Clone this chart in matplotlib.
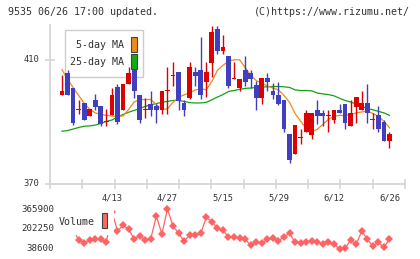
import matplotlib
matplotlib.use('Agg')
import matplotlib.pyplot as plt
from matplotlib.patches import Rectangle
from matplotlib.transforms import blended_transform_factory
import numpy as np

# ---------------- data ----------------
opens = [398.8, 405.8, 400.8, 393.9, 396.0, 391.9, 396.9, 395.0, 389.9, 392.1,
         401.1, 393.7, 402.1, 406.8, 398.8, 393.9, 395.9, 395.0, 393.7, 400.0,
         404.9, 406.0, 396.0, 397.7, 406.0, 406.8, 402.7, 408.9, 420.0, 412.8,
         411.1, 403.9, 400.9, 406.8, 405.9, 402.0, 397.7, 404.0, 400.1, 398.8,
         396.9, 386.0, 379.5, 384.9, 386.7, 385.7, 393.9, 393.0, 391.8, 390.5,
         393.9, 395.9, 388.6, 394.8, 393.9, 396.0, 390.6, 392.1, 389.9, 383.8]
highs = [405.0, 406.8, 400.8, 396.9, 396.0, 394.2, 399.0, 395.0, 394.0, 401.0,
         402.1, 402.1, 407.7, 406.8, 398.8, 397.6, 400.1, 395.9, 400.1, 407.8,
         409.2, 406.0, 396.9, 409.2, 407.6, 417.3, 409.2, 421.0, 421.0, 418.1,
         411.1, 409.2, 403.9, 411.1, 406.8, 403.1, 404.0, 405.9, 402.4, 402.7,
         396.9, 386.0, 388.9, 387.8, 393.9, 393.0, 396.9, 393.9, 393.9, 393.9,
         395.9, 395.9, 396.9, 397.9, 400.1, 402.1, 393.0, 395.0, 390.7, 386.9]
lows = [398.8, 398.7, 388.9, 392.7, 390.5, 391.9, 393.7, 388.6, 388.6, 392.1,
        389.2, 393.7, 402.1, 397.8, 389.8, 391.1, 391.8, 389.7, 392.7, 392.7,
        401.7, 393.7, 391.8, 397.5, 401.7, 397.5, 397.9, 404.6, 411.9, 411.9,
        400.8, 403.9, 399.9, 401.6, 400.9, 393.7, 395.9, 399.9, 397.4, 395.3,
        386.7, 376.8, 379.5, 383.0, 386.7, 384.6, 389.4, 388.6, 386.7, 389.6,
        392.8, 387.7, 388.6, 389.6, 393.9, 389.6, 387.6, 386.7, 383.8, 381.5]
closes = [400.1, 398.7, 389.7, 394.1, 390.5, 394.2, 394.8, 389.4, 390.0, 398.8,
          389.9, 402.1, 405.9, 399.9, 390.5, 394.0, 393.9, 393.7, 400.1, 400.1,
          405.0, 396.8, 393.7, 407.8, 404.9, 398.5, 406.0, 419.1, 412.8, 414.1,
          401.7, 404.1, 403.9, 402.8, 403.8, 397.7, 404.0, 402.8, 398.8, 395.9,
          387.8, 377.8, 388.9, 385.0, 393.0, 393.0, 391.8, 391.8, 392.0, 393.9,
          392.8, 389.6, 393.0, 397.9, 396.0, 392.8, 390.8, 387.7, 383.8, 386.0]
ma5 = [406.8, 403.7, 401.1, 398.5, 396.0, 394.1, 392.9, 392.4, 392.1, 391.9,
       391.8, 391.9, 394.0, 396.4, 397.2, 397.2, 397.2, 395.6, 394.0, 394.2,
       396.3, 397.9, 398.7, 399.3, 400.3, 400.6, 400.4, 403.0, 406.6, 408.2,
       409.5, 410.0, 410.0, 407.5, 405.0, 403.3, 402.4, 401.6, 400.9, 400.3,
       398.5, 396.3, 392.7, 390.2, 387.9, 386.9, 387.6, 389.2, 390.8, 391.8,
       392.1, 392.1, 392.3, 392.9, 393.2, 393.5, 392.7, 391.8, 390.2, 388.1]
ma25 = [387.0, 387.2, 387.7, 388.2, 388.6, 388.7, 389.0, 389.5, 390.2, 390.6,
        391.6, 392.4, 393.1, 393.7, 394.3, 395.0, 395.5, 395.9, 396.3, 396.6,
        396.9, 396.9, 396.6, 396.2, 396.1, 396.1, 396.3, 397.1, 398.0, 398.8,
        399.8, 400.1, 400.5, 400.8, 400.9, 401.1, 401.2, 401.3, 401.4, 401.4,
        401.3, 401.1, 400.3, 400.1, 400.1, 400.0, 399.3, 399.0, 398.8, 398.4,
        397.6, 396.9, 396.4, 395.8, 395.0, 394.3, 393.9, 393.4, 392.9, 392.1]
volume = [250000, 230000, 200000, 110300, 83100, 110300, 121000, 118600, 93800, 340000,
          187000, 231500, 198500, 118600, 145800, 110300, 121000, 308200, 159800, 365900,
          225700, 165600, 102100, 149100, 151500, 165600, 297500, 261200, 206800, 192800,
          132600, 137500, 124300, 116100, 66600, 96300, 83100, 116100, 124300, 102100,
          137500, 165600, 91400, 83100, 91400, 102100, 91400, 77300, 91400, 74900,
          38600, 41900, 110300, 74900, 184500, 116100, 60900, 91400, 50100, 116100]
date_label_idx = [9, 19, 29, 39, 49, 59]
date_labels = ['4/13', '4/27', '5/15', '5/29', '6/12', '6/26']
price_ticks = [370, 410]
title_left = '9535 06/26 17:00 updated.'
title_right = '(C)https://www.rizumu.net/'

# ---------------- layout helpers ----------------
W, H = 420, 259
fig = plt.figure(figsize=(W / 100, H / 100), dpi=100)
fig.patch.set_facecolor('white')
MONO = 'DejaVu Sans Mono'
TXT = '#333333'
AXC = '#d6d6d6'
RED = '#dd0000'
BLUE = '#3f3fbf'
ORANGE = '#ee8a1a'
GREEN = '#16a016'
VOLC = '#ff6464'


def fx(x):
    return x / W


def fy(y):
    return 1 - y / H


XMIN, XMAX = -2.16, 61.8

# ---------------- price panel ----------------
ax = fig.add_axes([fx(50), fy(184), fx(405) - fx(50), fy(25) - fy(184)])
ax.set_xlim(XMIN, XMAX)
ax.set_ylim(370, 421.2)
ax.set_facecolor('white')
for s in ['top', 'right']:
    ax.spines[s].set_visible(False)
for s in ['left', 'bottom']:
    ax.spines[s].set_color(AXC)
    ax.spines[s].set_linewidth(1.3)

ax.set_xticks(np.linspace(XMIN, XMAX, 12))
ax.set_xticklabels([])
ax.set_yticks(price_ticks)
ax.set_yticklabels([])
ax.tick_params(axis='both', direction='inout', length=6.5, width=1.2, color=AXC)

n = len(opens)
x = np.arange(n)
for i in range(n):
    o, h, l, c = opens[i], highs[i], lows[i], closes[i]
    col = RED if c >= o else BLUE
    ax.vlines(x[i], l, h, color=col, linewidth=1.0, zorder=3)
    bottom = min(o, c)
    height = max(abs(c - o), 0.35)
    ax.bar(x[i], height, bottom=bottom, width=0.86, color=col,
           linewidth=0, zorder=4)

ax.plot(x, ma25, color=GREEN, linewidth=0.9, zorder=2)
ax.plot(x, ma5, color=ORANGE, linewidth=0.9, zorder=2)

# y labels
bt = blended_transform_factory(ax.transAxes, ax.transData)
for t in price_ticks:
    ax.text(-0.030, t, str(t), transform=bt, ha='right', va='center',
            fontsize=6.3, family=MONO, color=TXT)
# date labels
bx = blended_transform_factory(ax.transData, ax.transAxes)
for idx, lab in zip(date_label_idx, date_labels):
    ax.text(x[idx], -0.088, lab, transform=bx, ha='center', va='center',
            fontsize=6.3, family=MONO, color=TXT)

# price legend (drawn in figure pixels)
ax.add_patch(Rectangle((fx(65.3), fy(76.7)), fx(143.3) - fx(65.3), fy(30) - fy(76.7),
                       transform=fig.transFigure, facecolor='white', edgecolor='#cccccc',
                       linewidth=1.0, zorder=1, clip_on=False))
ax.add_patch(Rectangle((fx(131), fy(52.3)), fx(6.3), fy(37.3) - fy(52.3),
                       transform=fig.transFigure, facecolor=ORANGE, edgecolor='#444444',
                       linewidth=0.8, zorder=1.5, clip_on=False))
ax.add_patch(Rectangle((fx(131), fy(69.3)), fx(6.3), fy(54) - fy(69.3),
                       transform=fig.transFigure, facecolor='#11aa11', edgecolor='#444444',
                       linewidth=0.8, zorder=1.5, clip_on=False))
fig.text(fx(124.5), fy(45), '5-day MA', ha='right', va='center', fontsize=7.2,
         family=MONO, color=TXT)
fig.text(fx(124.5), fy(62), '25-day MA', ha='right', va='center', fontsize=7.2,
         family=MONO, color=TXT)

# ---------------- volume panel ----------------
vmin, vmax = min(volume), max(volume)
axv = fig.add_axes([fx(50), fy(248.7), fx(405) - fx(50), fy(209) - fy(248.7)])
axv.set_xlim(XMIN, XMAX)
axv.set_ylim(vmin, vmax)
axv.axis('off')
axv.plot(x, volume, color=VOLC, linewidth=0.9, marker='D', markersize=4.2,
         markeredgewidth=0, markerfacecolor=VOLC, clip_on=False, zorder=2)
btv = blended_transform_factory(axv.transAxes, axv.transData)
for v in [vmin, (vmin + vmax) / 2, vmax]:
    axv.text(0.0113, v, '%d' % v, transform=btv, ha='right', va='center',
             fontsize=6.6, family=MONO, color=TXT)
# volume legend
axv.add_patch(Rectangle((fx(55), fy(235)), fx(114) - fx(55), fy(205) - fy(235),
                        transform=fig.transFigure, facecolor='white', edgecolor='none',
                        zorder=5, clip_on=False))
axv.add_patch(Rectangle((fx(101.7), fy(228.3)), fx(5.6), fy(213.3) - fy(228.3),
                        transform=fig.transFigure, facecolor=VOLC, edgecolor='#444444',
                        linewidth=0.8, zorder=6, clip_on=False))
fig.text(fx(58.3), fy(222), 'Volume', ha='left', va='center', fontsize=7.2,
         family=MONO, color=TXT, zorder=7)

# ---------------- header ----------------
fig.text(fx(8.3), fy(12), title_left, ha='left', va='center', fontsize=7.2,
         family=MONO, color=TXT)
fig.text(fx(410), fy(12), title_right, ha='right', va='center', fontsize=7.2,
         family=MONO, color=TXT)

fig.savefig('out.png', dpi=100, facecolor='white')
